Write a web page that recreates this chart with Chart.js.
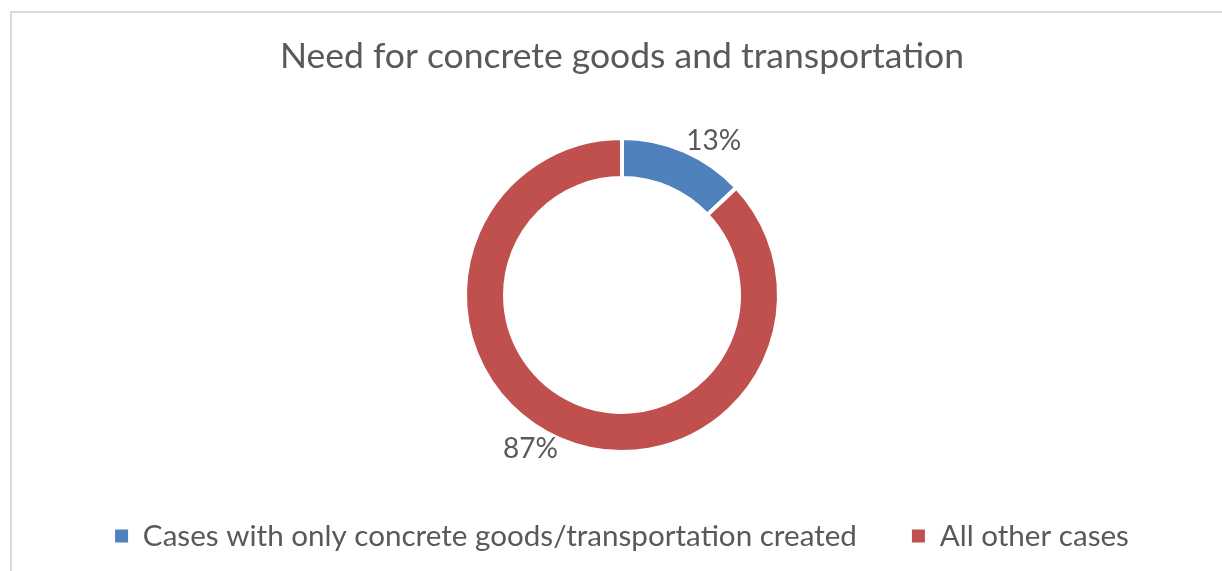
<!DOCTYPE html>
<html>
<head>
<meta charset="utf-8">
<script src="https://cdn.jsdelivr.net/npm/chart.js@4.4.1/dist/chart.umd.min.js"></script>
<style>
  html, body { margin: 0; padding: 0; background: #fff; overflow: hidden; }
  #wrap { position: relative; width: 1222px; height: 571px; }
  #frame {
    position: absolute; left: 10px; top: 11px; width: 1300px; height: 700px;
    border-top: 2px solid #d9d9d9; border-left: 2px solid #d9d9d9;
    pointer-events: none;
  }
  canvas { position: absolute; left: 0; top: 0; }
</style>
</head>
<body>
<div id="wrap">
  <canvas id="donutChart" width="1222" height="571"></canvas>
  <div id="frame"></div>
</div>
<script>
const chartTitle = 'Need for concrete goods and transportation';
const categories = ['Cases with only concrete goods/transportation created', 'All other cases'];
const shares = [13, 87];
const sliceColors = ['#4F81BD', '#C0504D'];

const textColor = '#595959';
const fontFamily = "Lato, 'Open Sans', sans-serif";

// percentage labels sit just outside the ring, nudged clockwise a little
const sliceLabels = {
  id: 'sliceLabels',
  afterDatasetsDraw(chart) {
    const ctx = chart.ctx;
    const meta = chart.getDatasetMeta(0);
    ctx.save();
    ctx.font = `28px ${fontFamily}`;
    ctx.fillStyle = textColor;
    ctx.textAlign = 'center';
    ctx.textBaseline = 'middle';
    meta.data.forEach((arc, i) => {
      const p = arc.getProps(['x', 'y', 'startAngle', 'endAngle', 'outerRadius'], true);
      const a = (p.startAngle + p.endAngle) / 2 + 0.129;
      const r = p.outerRadius + 22;
      ctx.fillText(shares[i] + '%', p.x + Math.cos(a) * r, p.y + Math.sin(a) * r);
    });
    ctx.restore();
  }
};

window.addEventListener('DOMContentLoaded', () => {
  const ctx = document.getElementById('donutChart').getContext('2d');

  Chart.defaults.color = textColor;
  Chart.defaults.font.family = fontFamily;

  const data = {
    labels: categories,
    datasets: [{
      data: shares,
      backgroundColor: sliceColors,
      borderColor: '#ffffff',
      borderWidth: 4,
      radius: 157,
      cutout: '74.5%'
    }]
  };

  const config = {
    type: 'doughnut',
    data: data,
    plugins: [sliceLabels],
    options: {
      responsive: false,
      animation: false,
      devicePixelRatio: 1,
      layout: { padding: { left: 22, right: 0, top: 0, bottom: 10.2 } },
      plugins: {
        title: {
          display: true,
          text: chartTitle,
          color: textColor,
          font: { size: 35.5, weight: 'normal' },
          padding: { top: 35.7, bottom: 45.5 }
        },
        legend: {
          position: 'bottom',
          labels: {
            boxWidth: 13,
            boxHeight: 13,
            padding: 55,
            color: textColor,
            font: { size: 29.6 },
            generateLabels: function (chart) {
              const original = Chart.overrides.doughnut.plugins.legend.labels.generateLabels;
              const items = original(chart);
              items.forEach(item => {
                item.lineWidth = 0;
                item.strokeStyle = 'transparent';
              });
              return items;
            }
          }
        },
        tooltip: { enabled: false }
      }
    }
  };

  new Chart(ctx, config);
});
</script>
</body>
</html>
